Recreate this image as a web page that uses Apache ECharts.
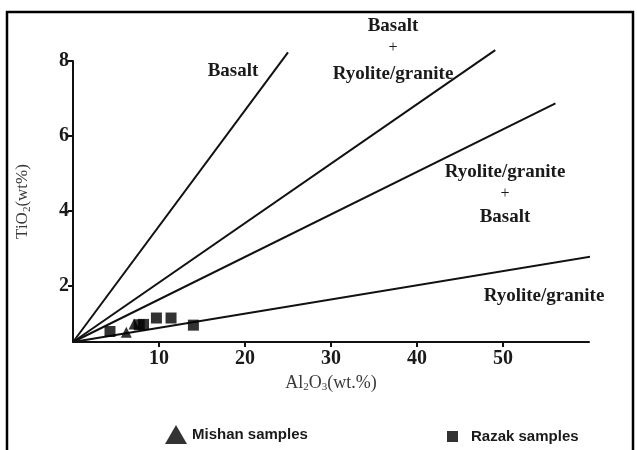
<!DOCTYPE html>
<html><head><meta charset="utf-8">
<script src="https://cdn.jsdelivr.net/npm/echarts@6/dist/echarts.min.js"></script>
<style>html,body{margin:0;padding:0;background:#fff}#c{width:637px;height:450px}</style>
</head><body><div id="c"></div>
<script>
// Data
const mishanSamples = [[6.2,0.76],[7.1,0.98]];
const razakSamples = [[4.3,0.78],[7.7,0.96],[8.2,0.97],[9.7,1.14],[11.4,1.14],[14.0,0.95]];
const lineBasalt = [[0,0.5],[25.0,8.23]];
const lineBasaltRyolite = [[0,0.5],[49.1,8.29]];
const lineRyoliteBasalt = [[0,0.5],[56.1,6.87]];
const lineRyolite = [[0,0.5],[60.5,2.79]];
const xTicks = [10,20,30,40,50];
const yTicks = [2,4,6,8];

const serif = '"Liberation Serif","Times New Roman",serif';
const chart = echarts.init(document.getElementById('c'), null, {renderer:'canvas'});
function lineSeries(d){
  return {type:'line', data:d, symbol:'none', clip:false, silent:true,
    lineStyle:{color:'#111', width:2}, z:2};
}
function txt(x,y,t,size,weight){
  return {type:'text', x:x, y:y, style:{text:t, x:0, y:0, fill:'#1a1a1a',
    font:(weight||'bold')+' '+size+'px '+serif, textAlign:'center', textVerticalAlign:'middle'}};
}
chart.setOption({
  animation:false,
  grid:{left:73, right:48, top:61, bottom:108},
  xAxis:{type:'value', min:0, max:60,
    axisLine:{lineStyle:{color:'#111', width:2}},
    axisTick:{show:true, length:5, customValues:xTicks, lineStyle:{color:'#111', width:2}},
    axisLabel:{customValues:xTicks, color:'#1a1a1a', fontFamily:serif, fontWeight:'bold', fontSize:20, margin:7},
    splitLine:{show:false},
    name:'{a|Al}{s|2}{a|O}{s|3}{a|(wt.%)}', nameLocation:'middle', nameGap:31,
    nameTextStyle:{rich:{a:{fontFamily:serif, fontSize:18, color:'#3a3a3a'}, s:{fontFamily:serif, fontSize:11, color:'#3a3a3a', padding:[9,0,0,0]}}}
  },
  yAxis:{type:'value', min:0.5, max:8,
    axisLine:{show:true, lineStyle:{color:'#111', width:2}},
    axisTick:{show:true, length:5, customValues:yTicks, lineStyle:{color:'#111', width:2}},
    axisLabel:{customValues:yTicks, color:'#1a1a1a', fontFamily:serif, fontWeight:'bold', fontSize:20, margin:4},
    splitLine:{show:false},
    name:'{a|TiO}{s|2}{a|(wt%)}', nameLocation:'middle', nameGap:40,
    nameTextStyle:{rich:{a:{fontFamily:serif, fontSize:17, color:'#3a3a3a'}, s:{fontFamily:serif, fontSize:11, color:'#3a3a3a', padding:[9,0,0,0]}}}
  },
  legend:[
    {data:[{name:'Mishan samples', icon:'triangle'}], left:160, top:420, itemWidth:22, itemHeight:19, itemGap:10,
     textStyle:{fontFamily:'"Liberation Sans",Arial,sans-serif', fontWeight:'bold', fontSize:15, color:'#1a1a1a'}},
    {data:[{name:'Razak samples', icon:'rect'}], left:442, top:424, itemWidth:11, itemHeight:11, itemGap:14,
     textStyle:{fontFamily:'"Liberation Sans",Arial,sans-serif', fontWeight:'bold', fontSize:15, color:'#1a1a1a', padding:[0,0,0,8]}}
  ],
  series:[
    lineSeries(lineBasalt), lineSeries(lineBasaltRyolite), lineSeries(lineRyoliteBasalt), lineSeries(lineRyolite),
    {name:'Mishan samples', type:'scatter', data:mishanSamples, symbol:'triangle', symbolSize:11, itemStyle:{color:'#000'}, z:5},
    {name:'Razak samples', type:'scatter', data:razakSamples, symbol:'rect', symbolSize:11, itemStyle:{color:'#000'}, z:5}
  ],
  graphic:[
    {type:'rect', shape:{x:7, y:12, width:626, height:460}, style:{fill:'none', stroke:'#000', lineWidth:2.5}, silent:true},
    txt(233,71,'Basalt',19),
    txt(393,26,'Basalt',19),
    txt(393,48,'+',16,'normal'),
    txt(393,74,'Ryolite/granite',19),
    txt(505,172,'Ryolite/granite',19),
    txt(505,194,'+',16,'normal'),
    txt(505,217,'Basalt',19),
    txt(544,296,'Ryolite/granite',19)
  ]
});
</script></body></html>
